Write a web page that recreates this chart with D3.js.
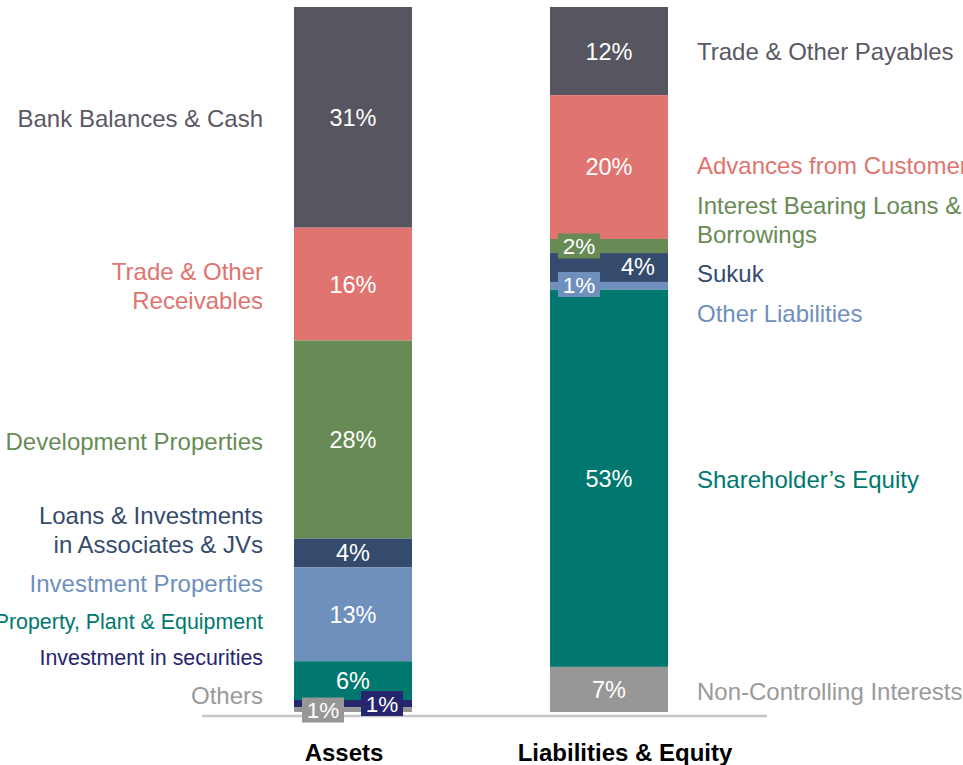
<!DOCTYPE html>
<html><head><meta charset="utf-8">
<script src="https://cdn.jsdelivr.net/npm/d3@7"></script>
<style>html,body{margin:0;padding:0;background:#fff;}svg{display:block;font-family:Arial,"Liberation Sans",sans-serif;}</style>
</head><body><svg id="c" width="963" height="765"></svg>
<script>
const categories = ["Assets", "Liabilities & Equity"];
const assetNames = ["Bank Balances & Cash", "Trade & Other Receivables", "Development Properties", "Loans & Investments in Associates & JVs", "Investment Properties", "Property, Plant & Equipment", "Investment in securities", "Others"];
const assetValues = [31.3, 16.0, 28.1, 4.1, 13.3, 5.5, 1.0, 0.7];
const assetLabels = ["31%", "16%", "28%", "4%", "13%", "6%", "1%", "1%"];
const liabNames = ["Trade & Other Payables", "Advances from Customers", "Interest Bearing Loans & Borrowings", "Sukuk", "Other Liabilities", "Shareholder\u2019s Equity", "Non-Controlling Interests"];
const liabValues = [12.5, 20.4, 2.0, 4.1, 1.1, 53.5, 6.4];
const liabLabels = ["12%", "20%", "2%", "4%", "1%", "53%", "7%"];
const assetColors = ["#57555f", "#e07470", "#688b55", "#344b6e", "#6f8fbd", "#00786f", "#25266e", "#979797"];
const liabColors = ["#57555f", "#e07470", "#688b55", "#344b6e", "#6f8fbd", "#00786f", "#979797"];
const assetTextColors = ["#5a5864", "#e07470", "#688b55", "#344b6e", "#6f8fbd", "#00786f", "#25266e", "#9a9a9a"];
const liabTextColors = ["#5a5864", "#e07470", "#688b55", "#344b6e", "#6f8fbd", "#00786f", "#9a9a9a"];

const svg = d3.select("#c");
const x = d3.scaleBand().domain(categories).range([294, 668]).paddingInner(0.539).paddingOuter(0);
const y = d3.scaleLinear().domain([0, 100]).range([712, 7]);
const bw = x.bandwidth();

function stack(vals) {
  let acc = 100; return vals.map(v => { const top = acc; acc -= v; return {top, bottom: acc, v}; });
}
const aStack = stack(assetValues), lStack = stack(liabValues);

function drawBar(cat, st, colors) {
  svg.append("g").selectAll("rect").data(st).join("rect")
    .attr("x", x(cat)).attr("width", bw)
    .attr("y", d => y(d.top)).attr("height", d => y(d.bottom) - y(d.top))
    .attr("fill", (d, i) => colors[i]);
}
drawBar(categories[0], aStack, assetColors);
drawBar(categories[1], lStack, liabColors);

svg.append("line").attr("x1", 202).attr("x2", 767).attr("y1", 716).attr("y2", 716)
  .attr("stroke", "#c6c6c6").attr("stroke-width", 2.5);

const ax = x(categories[0]), lx = x(categories[1]);
const aLayout = [null, null, null, null, null, null, {cx: ax + bw/2 + 29, cy: 703.5, box: true}, {cx: ax + 29, cy: 710, box: true}];
const lLayout = [null, null, {cx: lx + 29, cy: 246, box: true}, {cx: lx + 88, cy: 267, box: false}, {cx: lx + 29, cy: 284.5, box: true}, null, null];
function drawValues(cat, st, labels, layout, colors) {
  st.forEach((d, i) => {
    const L = layout[i];
    const cx = L ? L.cx : x(cat) + bw / 2;
    const cy = L ? L.cy : (y(d.top) + y(d.bottom)) / 2;
    if (L && L.box) {
      svg.append("rect").attr("x", cx - 21).attr("y", cy - 12.5).attr("width", 42).attr("height", 25).attr("fill", colors[i]);
    }
    svg.append("text").attr("x", cx).attr("y", cy).attr("dy", "0.36em").attr("text-anchor", "middle")
      .attr("fill", "#fff").attr("font-size", L && L.box ? 22.5 : 23.5).text(labels[i]);
  });
}
drawValues(categories[0], aStack, assetLabels, aLayout, assetColors);
drawValues(categories[1], lStack, liabLabels, lLayout, liabColors);

const catDx = [-9, 16];
svg.append("g").selectAll("text").data(categories).join("text")
  .attr("x", (d, i) => x(d) + bw / 2 + catDx[i]).attr("y", 752).attr("dy", "0.36em").attr("text-anchor", "middle")
  .attr("font-weight", "bold").attr("font-size", 24).attr("fill", "#000").text(d => d);

const aLines = [["Bank Balances & Cash"], ["Trade & Other", "Receivables"], ["Development Properties"], ["Loans & Investments", "in Associates & JVs"], ["Investment Properties"], ["Property, Plant & Equipment"], ["Investment in securities"], ["Others"]];
const aY = [118, 271, 441, 515, 583, 621, 657, 695];
const aFs = [24, 24, 24, 24, 24, 21.4, 21.4, 24];
const lLines = [["Trade & Other Payables"], ["Advances from Customers"], ["Interest Bearing Loans &", "Borrowings"], ["Sukuk"], ["Other Liabilities"], ["Shareholder\u2019s Equity"], ["Non-Controlling Interests"]];
const lY = [51, 165, 205, 273, 313, 479, 691];
aLines.forEach((lines, i) => {
  const t = svg.append("text").attr("text-anchor", "end").attr("fill", assetTextColors[i]).attr("font-size", aFs[i]);
  lines.forEach((s, j) => t.append("tspan").attr("x", 263).attr("y", aY[i] + j * 29).attr("dy", "0.36em").text(s));
});
lLines.forEach((lines, i) => {
  const t = svg.append("text").attr("text-anchor", "start").attr("fill", liabTextColors[i]).attr("font-size", 24);
  lines.forEach((s, j) => t.append("tspan").attr("x", 697).attr("y", lY[i] + j * 29).attr("dy", "0.36em").text(s));
});
</script></body></html>
